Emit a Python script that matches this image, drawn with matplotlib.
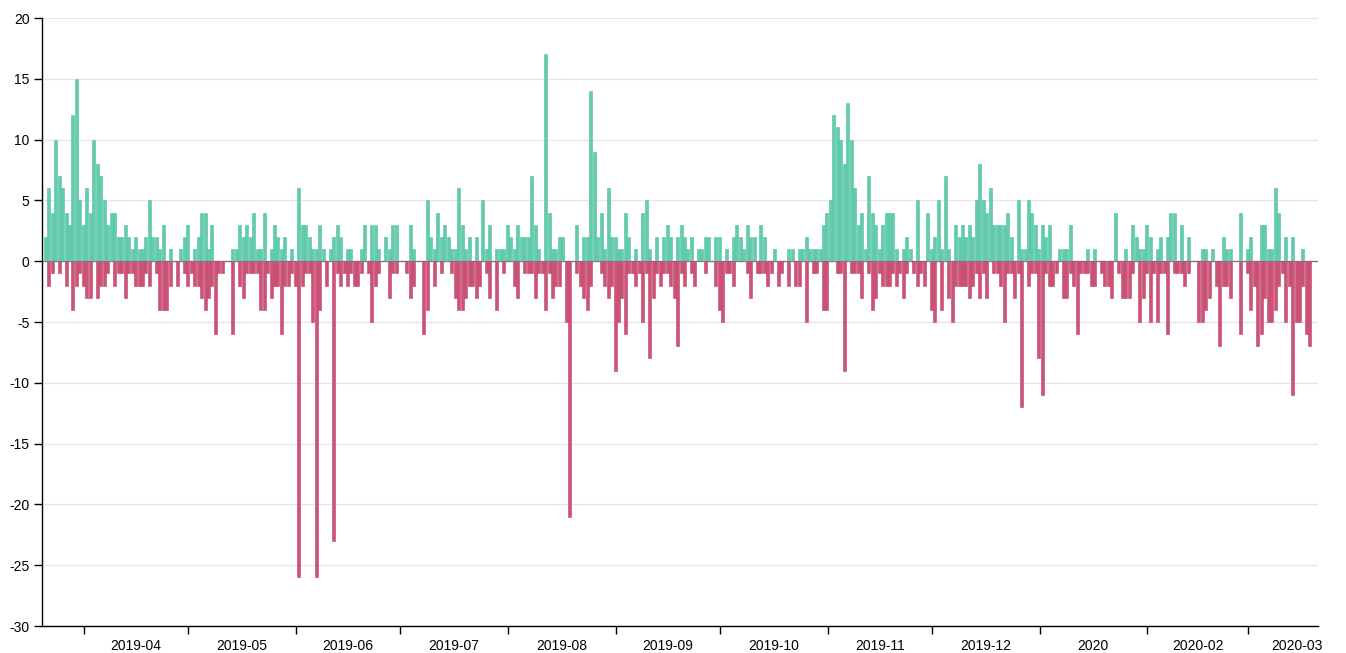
import pandas as pd
import matplotlib
matplotlib.use("Agg")
import matplotlib.pyplot as plt
import matplotlib.dates as mdates
from matplotlib.ticker import FixedLocator, NullFormatter, MultipleLocator

plt.rcParams["font.family"] = ["Liberation Sans", "DejaVu Sans"]
plt.rcParams["axes.unicode_minus"] = False

start_date = "2019-03-20"

# daily positive counts (green)
gains = [
    2, 6, 4, 10, 7, 6, 4, 3, 12, 15,
    5, 3, 6, 4, 10, 8, 7, 5, 3, 4,
    4, 2, 2, 3, 2, 1, 2, 1, 1, 2,
    5, 2, 2, 1, 3, 0, 1, 0, 0, 1,
    2, 3, 0, 1, 2, 4, 4, 1, 3, 0,
    0, 0, 0, 0, 1, 1, 3, 2, 3, 2,
    4, 1, 1, 4, 0, 1, 3, 2, 1, 2,
    0, 1, 0, 6, 3, 3, 2, 1, 1, 3,
    1, 0, 1, 2, 3, 2, 0, 1, 1, 0,
    0, 1, 3, 0, 3, 3, 1, 0, 2, 1,
    3, 3, 0, 0, 0, 3, 1, 0, 0, 0,
    5, 2, 1, 4, 2, 3, 2, 1, 1, 6,
    3, 1, 2, 0, 2, 0, 5, 1, 3, 0,
    1, 1, 1, 3, 2, 1, 3, 2, 2, 2,
    7, 3, 1, 0, 17, 4, 1, 1, 2, 2,
    0, 0, 0, 3, 0, 2, 2, 14, 9, 2,
    4, 1, 6, 2, 2, 1, 1, 4, 2, 0,
    1, 0, 4, 5, 1, 0, 2, 0, 2, 3,
    2, 0, 2, 3, 2, 1, 2, 0, 1, 1,
    2, 2, 0, 2, 2, 0, 1, 0, 2, 3,
    2, 1, 3, 2, 2, 0, 3, 2, 0, 0,
    1, 0, 0, 0, 1, 1, 0, 1, 1, 2,
    1, 1, 1, 1, 3, 4, 5, 12, 11, 10,
    8, 13, 10, 6, 3, 4, 1, 7, 4, 3,
    1, 3, 4, 4, 4, 1, 0, 1, 2, 1,
    0, 5, 0, 0, 4, 1, 2, 5, 1, 7,
    1, 0, 3, 2, 3, 2, 3, 2, 5, 8,
    5, 4, 6, 3, 3, 3, 3, 4, 2, 0,
    5, 1, 1, 5, 4, 3, 1, 3, 2, 3,
    0, 0, 1, 1, 1, 3, 0, 0, 0, 0,
    1, 0, 1, 0, 0, 0, 0, 0, 4, 0,
    0, 1, 0, 3, 2, 1, 1, 3, 2, 0,
    1, 2, 0, 2, 4, 4, 0, 3, 0, 2,
    0, 0, 0, 1, 1, 0, 1, 0, 0, 2,
    1, 1, 0, 0, 4, 0, 1, 2, 0, 0,
    3, 3, 1, 1, 6, 4, 0, 2, 0, 2,
    0, 0, 1, 0, 0,
]

# daily negative counts (red)
losses = [
    0, -2, -1, 0, -1, 0, -2, 0, -4, -2,
    -1, -2, -3, -3, 0, -3, -2, -2, -1, 0,
    -2, -1, -1, -3, -1, -1, -2, -2, -2, -1,
    -2, 0, -1, -4, -4, -4, -2, 0, -2, 0,
    -1, -2, -1, -2, -2, -3, -4, -3, -2, -6,
    -1, -1, 0, 0, -6, 0, -2, -3, -1, -1,
    -1, -1, -4, -4, -1, -3, -2, -2, -6, -2,
    -2, -1, -2, -26, -2, -1, -1, -5, -26, -4,
    0, -2, 0, -23, -1, -2, -1, -2, -1, -2,
    -2, -1, 0, -1, -5, -2, -1, 0, 0, -3,
    -1, -1, 0, 0, -1, -3, -2, 0, 0, -6,
    -4, 0, -2, 0, -1, 0, 0, -1, -3, -4,
    -4, -3, -2, -2, -3, -2, 0, -1, -3, 0,
    -4, 0, -1, 0, 0, -2, -3, 0, -1, -1,
    -1, -3, -1, -1, -4, -1, -3, -2, -2, 0,
    -5, -21, 0, -1, -2, -3, -4, -2, 0, 0,
    -1, -2, -3, -2, -9, -5, -3, -6, -1, -1,
    -2, -1, -5, -1, -8, -3, -1, -2, -1, -1,
    -2, -3, -7, -1, -2, 0, -1, -2, 0, 0,
    -1, 0, 0, -2, -4, -5, -1, -1, -2, 0,
    0, 0, -1, -3, 0, -1, -1, -1, -2, -1,
    0, -2, -1, 0, -2, 0, -2, -2, 0, -5,
    0, -1, -1, 0, -4, -4, 0, 0, -1, -1,
    -9, 0, -1, -1, -1, -3, 0, -1, -4, -3,
    -1, -2, -2, -2, -1, -2, -1, -3, -1, 0,
    -1, -2, -1, -2, 0, -4, -5, 0, -4, 0,
    -3, -5, -2, -2, -2, -2, -3, -2, -1, -3,
    -1, -3, 0, -1, -1, -2, -5, -1, -1, -3,
    -1, -12, 0, -2, -1, -1, -8, -11, -1, -2,
    -2, -1, 0, -3, -3, -1, -2, -6, -1, -1,
    -1, -2, -2, 0, -1, -2, -2, -3, 0, -1,
    -3, -3, -3, -1, 0, -5, -3, -1, -5, -1,
    -5, -1, -1, -6, 0, -1, -1, -1, -2, -1,
    0, 0, -5, -5, -4, -3, 0, -2, -7, -2,
    -2, -3, 0, 0, -6, 0, -1, -4, -2, -7,
    -6, -3, -5, -5, -4, -2, -1, -5, -2, -11,
    -5, -5, -2, -6, -7,
]

month_starts = ["2019-04-01", "2019-05-01", "2019-06-01", "2019-07-01",
                "2019-08-01", "2019-09-01", "2019-10-01", "2019-11-01",
                "2019-12-01", "2020-01-01", "2020-02-01", "2020-03-01",
                "2020-04-01"]
month_labels = ["2019-04", "2019-05", "2019-06", "2019-07", "2019-08",
                "2019-09", "2019-10", "2019-11", "2019-12", "2020",
                "2020-02", "2020-03"]

dates = pd.date_range(start_date, periods=len(gains), freq="D")
x = mdates.date2num(dates) + 0.4

fig = plt.figure(figsize=(13.46, 6.53), dpi=100)
ax = fig.add_axes([42 / 1346, 27 / 653, 1276 / 1346, 608 / 653])

ax.bar(x, gains, width=0.86, align="edge", color="#62cdae",
       edgecolor="#50c19f", linewidth=0.4, zorder=2)
ax.bar(x, losses, width=0.86, align="edge", color="#cc5276",
       edgecolor="#c0436a", linewidth=0.4, zorder=2)
ax.axhline(0, color="#6f6f6f", linewidth=0.9, zorder=1.5)

x0 = mdates.date2num(pd.Timestamp(start_date)) - 0.09
x1 = mdates.date2num(pd.Timestamp("2020-03-21")) + 0.15
ax.set_xlim(x0, x1)
ax.set_ylim(-30, 20)

# y axis
ax.yaxis.set_major_locator(MultipleLocator(5))
ax.grid(axis="y", color="#e6e6e6", linewidth=1, zorder=0)
ax.set_axisbelow(True)

# x axis: ticks at month starts, labels mid-month (last one kept inside the axis)
starts = mdates.date2num(pd.to_datetime(month_starts))
mids = (starts[:-1] + starts[1:]) / 2
mids[-1] = min(mids[-1], x1 - 6.2)
ax.xaxis.set_major_locator(FixedLocator(starts[:-1]))
ax.xaxis.set_major_formatter(NullFormatter())
ax.set_xticks(mids, minor=True)
ax.set_xticklabels(month_labels, minor=True)
ax.tick_params(axis="x", which="major", length=6, width=1, color="black")
ax.tick_params(axis="x", which="minor", length=0, pad=9, labelsize=10)
ax.tick_params(axis="y", length=6, width=1, pad=3, labelsize=10)

for side in ["top", "right"]:
    ax.spines[side].set_visible(False)
for side in ["left", "bottom"]:
    ax.spines[side].set_color("black")
    ax.spines[side].set_linewidth(1)

fig.savefig("out.png", dpi=100)
